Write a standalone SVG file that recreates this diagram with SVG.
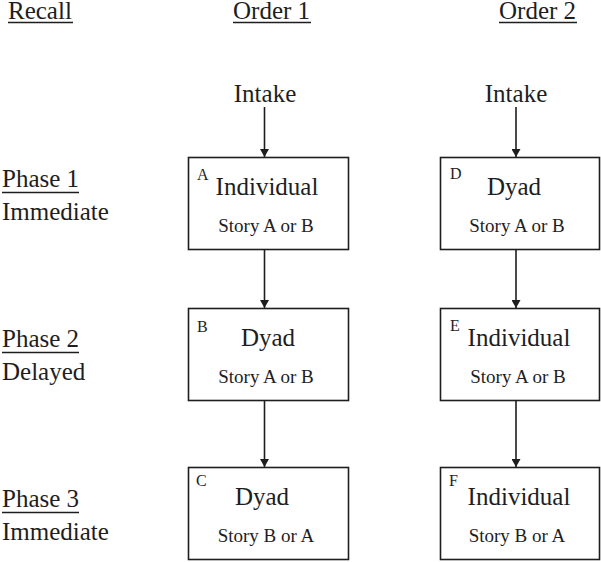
<svg xmlns="http://www.w3.org/2000/svg" width="601" height="562" viewBox="0 0 601 562">
<defs>
<marker id="ah" markerWidth="8" markerHeight="9" refX="8" refY="4.5" orient="auto" markerUnits="userSpaceOnUse">
<path d="M0,0 L8,4.5 L0,9 Z" fill="#1e1e1e"/>
</marker>
<style>
text{font-family:'Liberation Serif',Tinos,'DejaVu Serif',serif;fill:#1e1e1e}
.lbl{font-size:25px}
.main{font-size:25px;text-anchor:middle}
.story{font-size:19px;text-anchor:middle}
.sup{font-size:16px}
.box{fill:#fff;stroke:#1e1e1e;stroke-width:1.6}
.ul{stroke:#1e1e1e;stroke-width:1.5}
.conn line{stroke:#1e1e1e;stroke-width:1.6;marker-end:url(#ah)}
</style>
</defs>
<rect width="601" height="562" fill="#fff"/>
<g id="headers">
<text class="lbl" x="8" y="19">Recall</text>
<line class="ul" x1="8" y1="22.5" x2="73" y2="22.5"/>
<text class="lbl" x="233" y="19">Order 1</text>
<line class="ul" x1="233" y1="22.5" x2="311" y2="22.5"/>
<text class="lbl" x="499" y="19">Order 2</text>
<line class="ul" x1="499" y1="22.5" x2="577" y2="22.5"/>
</g>
<g id="phases">
<text class="lbl" x="2" y="187">Phase 1</text>
<line class="ul" x1="2" y1="192.5" x2="79" y2="192.5"/>
<text class="lbl" x="2" y="220">Immediate</text>
<text class="lbl" x="2" y="347">Phase 2</text>
<line class="ul" x1="2" y1="352.5" x2="79" y2="352.5"/>
<text class="lbl" x="2" y="380">Delayed</text>
<text class="lbl" x="2" y="507">Phase 3</text>
<line class="ul" x1="2" y1="512.5" x2="79" y2="512.5"/>
<text class="lbl" x="2" y="540">Immediate</text>
</g>
<g id="intake1"><text class="main" x="265" y="102">Intake</text></g>
<g id="intake2"><text class="main" x="516" y="102">Intake</text></g>
<g id="nodeA">
<rect class="box" x="188.5" y="157.5" width="160" height="92"/>
<text class="sup" x="197" y="180">A</text>
<text class="main" x="267" y="195">Individual</text>
<text class="story" x="266" y="232">Story A or B</text>
</g>
<g id="nodeD">
<rect class="box" x="440.5" y="157.5" width="159" height="92"/>
<text class="sup" x="450" y="179">D</text>
<text class="main" x="514" y="195">Dyad</text>
<text class="story" x="517" y="232">Story A or B</text>
</g>
<g id="nodeB">
<rect class="box" x="188.5" y="308.5" width="160" height="92"/>
<text class="sup" x="197" y="332">B</text>
<text class="main" x="268" y="346">Dyad</text>
<text class="story" x="266" y="383">Story A or B</text>
</g>
<g id="nodeE">
<rect class="box" x="440.5" y="308.5" width="159" height="92"/>
<text class="sup" x="450" y="331">E</text>
<text class="main" x="519" y="346">Individual</text>
<text class="story" x="518" y="383">Story A or B</text>
</g>
<g id="nodeC">
<rect class="box" x="188.5" y="467.5" width="160" height="92"/>
<text class="sup" x="196" y="486">C</text>
<text class="main" x="262" y="505">Dyad</text>
<text class="story" x="266" y="542">Story B or A</text>
</g>
<g id="nodeF">
<rect class="box" x="440.5" y="467.5" width="159" height="92"/>
<text class="sup" x="449" y="486">F</text>
<text class="main" x="519" y="505">Individual</text>
<text class="story" x="517" y="542">Story B or A</text>
</g>
<g class="conn" id="connectors">
<line x1="264.5" y1="107" x2="264.5" y2="157"/>
<line x1="516" y1="107" x2="516" y2="157"/>
<line x1="264.5" y1="250" x2="264.5" y2="308"/>
<line x1="516" y1="250" x2="516" y2="308"/>
<line x1="264.5" y1="401" x2="264.5" y2="467"/>
<line x1="516" y1="401" x2="516" y2="467"/>
</g>
</svg>
